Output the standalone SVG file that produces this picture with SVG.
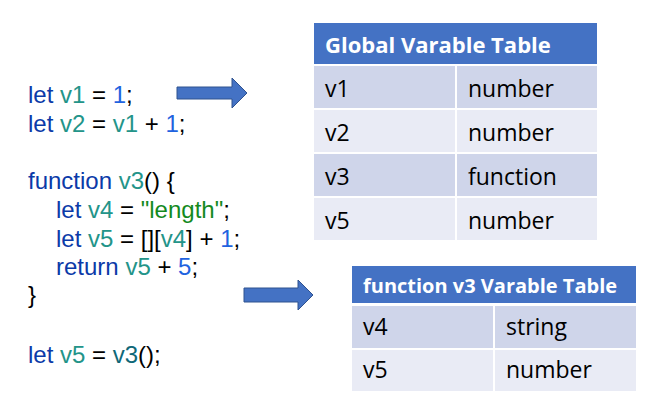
<svg xmlns="http://www.w3.org/2000/svg" width="646" height="400" viewBox="0 0 646 400">
<style>
.code{font-family:"Liberation Sans",Arial,sans-serif;font-size:24px;fill:#000}
.kw{fill:#0b3aa8}.var{fill:#239489}.num{fill:#1f63df}.str{fill:#148a1e}.fn{fill:#0f6878}
.hd{fill:#4472c4}.r1{fill:#cfd5ea}.r2{fill:#e9ebf5}
.ht{font-family:"Open Sans","Noto Sans",sans-serif;font-weight:bold;font-size:22px;fill:#fff}
.ht2{font-size:20px}
.ct{font-family:"Open Sans","Noto Sans",sans-serif;font-size:23px;fill:#000}
.arrow{fill:#4472c4;stroke:#2f528f;stroke-width:1}
</style>
<rect width="646" height="400" fill="#fff"/>
<g id="code">
<text class="code" x="28" y="103"><tspan class="kw">let</tspan> <tspan class="var">v1</tspan> = <tspan class="num">1</tspan>;</text>
<text class="code" x="28" y="132"><tspan class="kw">let</tspan> <tspan class="var">v2</tspan> = <tspan class="var">v1</tspan> + <tspan class="num">1</tspan>;</text>
<text class="code" x="28" y="189"><tspan class="kw">function</tspan> <tspan class="var">v3</tspan>() {</text>
<text class="code" x="56" y="218"><tspan class="kw">let</tspan> <tspan class="var">v4</tspan> = <tspan class="str">"length"</tspan>;</text>
<text class="code" x="56" y="247"><tspan class="kw">let</tspan> <tspan class="var">v5</tspan> = [][<tspan class="var">v4</tspan>] + <tspan class="num">1</tspan>;</text>
<text class="code" x="56" y="275"><tspan class="kw">return</tspan> <tspan class="var">v5</tspan> + <tspan class="num">5</tspan>;</text>
<text class="code" x="28" y="303">}</text>
<text class="code" x="28" y="363"><tspan class="kw">let</tspan> <tspan class="var">v5</tspan> = <tspan class="fn">v3</tspan>();</text>
</g>
<g id="global-table">
<rect class="hd" x="314" y="23" width="283" height="41"/>
<text class="ht" x="325" y="53">Global Varable Table</text>
<rect class="r1" x="314" y="66" width="141" height="42"/><rect class="r1" x="457" y="66" width="140" height="42"/>
<rect class="r2" x="314" y="110" width="141" height="42"/><rect class="r2" x="457" y="110" width="140" height="42"/>
<rect class="r1" x="314" y="154" width="141" height="42"/><rect class="r1" x="457" y="154" width="140" height="42"/>
<rect class="r2" x="314" y="198" width="141" height="42"/><rect class="r2" x="457" y="198" width="140" height="42"/>
<text class="ct" x="325" y="97">v1</text><text class="ct" x="468" y="97">number</text>
<text class="ct" x="325" y="141">v2</text><text class="ct" x="468" y="141">number</text>
<text class="ct" x="325" y="185">v3</text><text class="ct" x="468" y="185">function</text>
<text class="ct" x="325" y="229">v5</text><text class="ct" x="468" y="229">number</text>
</g>
<g id="function-table">
<rect class="hd" x="352" y="266" width="284" height="37"/>
<text class="ht ht2" x="363" y="293">function v3 Varable Table</text>
<rect class="r1" x="352" y="306" width="141" height="42"/><rect class="r1" x="495" y="306" width="141" height="42"/>
<rect class="r2" x="352" y="350" width="141" height="41"/><rect class="r2" x="495" y="350" width="141" height="41"/>
<text class="ct" x="363" y="335">v4</text><text class="ct" x="506" y="335">string</text>
<text class="ct" x="363" y="378">v5</text><text class="ct" x="506" y="378">number</text>
</g>
<g id="connectors">
<polygon class="arrow" points="177,87 232,87 232,78 247,93 232,108 232,99 177,99"/>
<polygon class="arrow" points="244,288 298,288 298,280 313,295 298,310 298,302 244,302"/>
</g>
</svg>
